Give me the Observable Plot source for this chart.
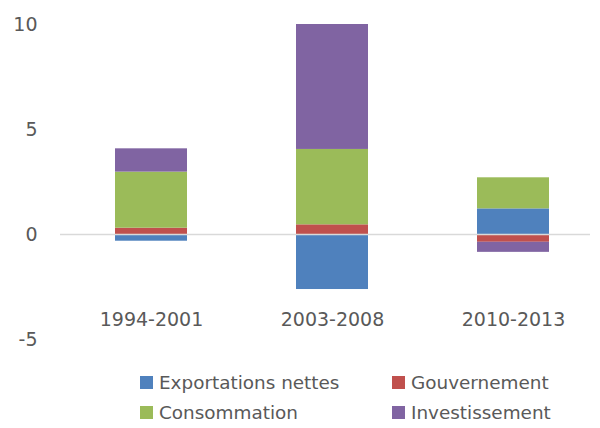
<!DOCTYPE html>
<html>
<head>
<meta charset="utf-8">
<script src="https://cdn.jsdelivr.net/npm/d3@7"></script>
<script src="https://cdn.jsdelivr.net/npm/@observablehq/plot@0.6"></script>
<style>
  html, body { margin: 0; padding: 0; background: #fff; }
  #wrap { position: relative; width: 600px; height: 428px; overflow: hidden; font-family: "DejaVu Sans", sans-serif; }
  #legend { position: absolute; left: 0; top: 372px; width: 600px; font-size: 18.4px; color: #595959; }
  .item { position: absolute; display: flex; align-items: center; white-space: nowrap; }
  .sw { width: 13px; height: 13px; margin-right: 6px; }
</style>
</head>
<body>
<div id="wrap">
  <div id="chart"></div>
  <div id="legend"></div>
</div>
<script>
const categories = ["1994-2001", "2003-2008", "2010-2013"];
const series = ["Exportations nettes", "Gouvernement", "Consommation", "Investissement"];
const exportations = [-0.32, -2.62, 1.22];
const gouvernement = [0.30, 0.46, -0.37];
const consommation = [2.67, 3.59, 1.48];
const investissement = [1.11, 5.95, -0.48];
const yTicks = [-5, 0, 5, 10];
const colors = ["#4f81bd", "#c0504d", "#9bbb59", "#8064a2"];

const valuesBySeries = [exportations, gouvernement, consommation, investissement];
const data = [];
series.forEach((s, i) => {
  categories.forEach((c, j) => {
    data.push({ serie: s, categorie: c, valeur: valuesBySeries[i][j] });
  });
});

const chart = Plot.plot({
  width: 600,
  height: 360,
  marginTop: 24,
  marginBottom: 21,
  marginLeft: 60,
  marginRight: 10,
  style: { fontFamily: "DejaVu Sans, sans-serif", fontSize: "19px", color: "#595959", background: "transparent" },
  x: { domain: categories, range: [61, 604], paddingInner: 0.6, paddingOuter: 0.3, axis: null },
  y: { domain: [-5, 10], ticks: yTicks, axis: null },
  color: { domain: series, range: colors },
  marks: [
    Plot.barY(data, Plot.stackY({ x: "categorie", y: "valeur", fill: "serie", order: series })),
    Plot.ruleY([0], { stroke: "#d9d9d9", strokeWidth: 1.5 }),
    Plot.axisY(yTicks, { tickSize: 0, tickPadding: 23, fill: "#595959", fontSize: 19, label: null, tickFormat: d => String(d) }),
    Plot.text(categories, { x: d => d, frameAnchor: "bottom", dy: -14, fill: "#595959", fontSize: 19 })
  ]
});
document.getElementById("chart").appendChild(chart);

const legend = document.getElementById("legend");
const positions = [[140, 0], [392, 0], [140, 30], [392, 30]];
series.forEach((s, i) => {
  const it = document.createElement("div");
  it.className = "item";
  it.style.left = positions[i][0] + "px";
  it.style.top = positions[i][1] + "px";
  const sw = document.createElement("div");
  sw.className = "sw";
  sw.style.background = colors[i];
  const t = document.createElement("span");
  t.textContent = s;
  it.appendChild(sw);
  it.appendChild(t);
  legend.appendChild(it);
});
</script>
</body>
</html>
